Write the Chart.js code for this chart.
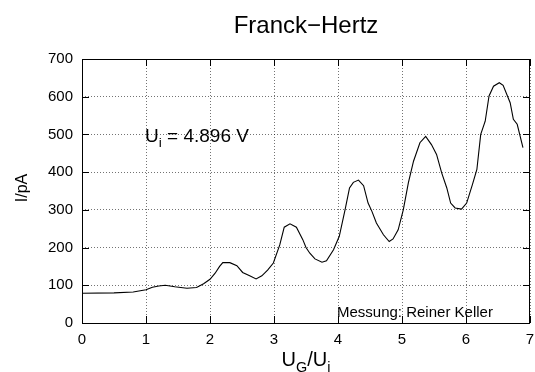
<!DOCTYPE html>
<html>
<head>
<meta charset="utf-8">
<script src="https://cdn.jsdelivr.net/npm/chart.js@4"></script>
<style>
html,body{margin:0;padding:0;background:#fff;}
canvas{display:block;}
</style>
</head>
<body>
<canvas id="c" width="535" height="372"></canvas>
<script>
const titleText = "Franck\u2212Hertz";
const xTicks = [0,1,2,3,4,5,6,7];
const yTicks = [0,100,200,300,400,500,600,700];
const voltageX = [0.0,0.5,0.8,1.0,1.1,1.2,1.3,1.45,1.64,1.79,1.9,2.0,2.08,2.15,2.2,2.31,2.42,2.51,2.62,2.72,2.81,2.9,2.99,3.09,3.16,3.25,3.35,3.45,3.5,3.56,3.64,3.75,3.82,3.93,4.02,4.11,4.18,4.24,4.32,4.40,4.47,4.53,4.60,4.71,4.80,4.86,4.94,5.02,5.10,5.18,5.28,5.37,5.46,5.54,5.62,5.70,5.76,5.83,5.93,6.01,6.10,6.17,6.23,6.30,6.36,6.43,6.52,6.58,6.69,6.74,6.80,6.89];
const currentPA = [79,80,82,88,95,98,100,96,92,94,104,116,132,150,160,160,152,134,125,117,125,140,159,207,254,263,254,221,200,185,170,161,165,194,230,300,358,373,379,364,318,296,265,234,216,223,247,300,372,429,478,495,473,447,398,358,318,305,302,318,367,407,500,535,602,628,637,630,584,540,527,465];

const FONT = "'Liberation Sans', Arial, Helvetica, sans-serif";

function drawSubText(ctx, x, y, parts, size) {
  let cx = x;
  for (const [t, sub] of parts) {
    const s = sub ? size * 0.72 : size;
    ctx.font = s + "px " + FONT;
    ctx.fillText(t, cx, sub ? y + size * 0.28 : y);
    cx += ctx.measureText(t).width;
  }
  return cx - x;
}
function measureSub(ctx, parts, size) {
  let w = 0;
  for (const [t, sub] of parts) {
    const s = sub ? size * 0.72 : size;
    ctx.font = s + "px " + FONT;
    w += ctx.measureText(t).width;
  }
  return w;
}

const decor = {
  id: 'decor',
  afterDraw(chart) {
    const ctx = chart.ctx;
    const a = chart.chartArea;
    const xs = chart.scales.x, ys = chart.scales.y;
    ctx.save();
    ctx.strokeStyle = '#000';
    ctx.lineWidth = 1;
    ctx.strokeRect(Math.round(a.left) + 0.5, Math.round(a.top) + 0.5, Math.round(a.right - a.left) - 1, Math.round(a.bottom - a.top));
    const L = 7;
    ctx.beginPath();
    for (const v of xTicks) {
      const px = Math.round(xs.getPixelForValue(v)) + 0.5;
      ctx.moveTo(px, a.bottom); ctx.lineTo(px, a.bottom - L);
      ctx.moveTo(px, a.top); ctx.lineTo(px, a.top + L);
    }
    for (const v of yTicks) {
      const py = Math.round(ys.getPixelForValue(v)) + 0.5;
      ctx.moveTo(a.left, py); ctx.lineTo(a.left + L, py);
      ctx.moveTo(a.right, py); ctx.lineTo(a.right - L, py);
    }
    ctx.stroke();

    ctx.fillStyle = '#000';
    ctx.textBaseline = 'alphabetic';
    ctx.font = "24px " + FONT;
    ctx.textAlign = 'center';
    ctx.fillText(titleText, (a.left + a.right) / 2, 33);
    ctx.textAlign = 'left';
    const xl = [["U", false], ["G", true], ["/U", false], ["i", true]];
    const wx = measureSub(ctx, xl, 20);
    drawSubText(ctx, (a.left + a.right) / 2 - wx / 2, 366, xl, 20);
    ctx.save();
    ctx.translate(27, 188);
    ctx.rotate(-Math.PI / 2);
    ctx.font = "16px " + FONT;
    ctx.textAlign = 'center';
    ctx.fillText("I/pA", 0, 0);
    ctx.restore();
    drawSubText(ctx, 145, 142, [["U", false], ["i", true], [" = 4.896 V", false]], 19);
    ctx.font = "15px " + FONT;
    ctx.fillText("Messung: Reiner Keller", 337, 317);
    ctx.restore();
  }
};

new Chart(document.getElementById('c'), {
  type: 'line',
  data: {
    datasets: [{
      data: voltageX.map((x, i) => ({ x: x, y: currentPA[i] })),
      borderColor: '#000',
      borderWidth: 1.1,
      pointRadius: 0,
      tension: 0,
      fill: false
    }]
  },
  options: {
    responsive: false,
    animation: false,
    devicePixelRatio: 1,
    layout: { padding: { top: 59, right: 0, left: 0, bottom: 0 } },
    plugins: { legend: { display: false }, tooltip: { enabled: false }, title: { display: false } },
    scales: {
      x: {
        type: 'linear', min: 0, max: 7,
        afterFit: s => { s.height = 49; s.paddingRight = 5; },
        afterBuildTicks: s => { s.ticks = xTicks.map(v => ({ value: v })); },
        ticks: { color: '#000', font: { family: FONT, size: 15 }, padding: 8, maxRotation: 0 },
        grid: { color: 'rgba(0,0,0,0.55)', lineWidth: 1, drawTicks: false },
        border: { display: false, dash: [1, 2] }
      },
      y: {
        min: 0, max: 700,
        afterFit: s => { s.width = 82; },
        afterBuildTicks: s => { s.ticks = yTicks.map(v => ({ value: v })); },
        ticks: { color: '#000', font: { family: FONT, size: 15 }, padding: 9 },
        grid: { color: 'rgba(0,0,0,0.55)', lineWidth: 1, drawTicks: false },
        border: { display: false, dash: [1, 2] }
      }
    }
  },
  plugins: [decor]
});
</script>
</body>
</html>
